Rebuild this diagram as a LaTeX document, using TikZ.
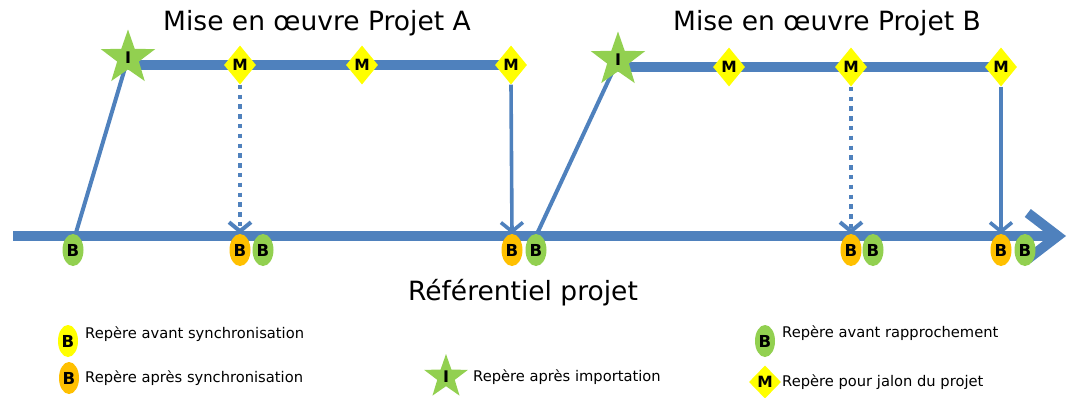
\documentclass[tikz,border=0pt]{standalone}
\usepackage{fontspec}
\setmainfont{DejaVu Sans}
\usetikzlibrary{shapes.geometric,arrows.meta,backgrounds}
\definecolor{pblue}{HTML}{4F81BD}
\definecolor{pgreen}{HTML}{92D050}
\definecolor{porange}{HTML}{FFC000}
\definecolor{pyellow}{HTML}{FFFF00}
\tikzset{
  bmark/.style={ellipse, minimum width=21pt, minimum height=32pt, inner sep=0pt, font=\fontsize{16.5}{16.5}\selectfont\bfseries},
  bgreen/.style={bmark, fill=pgreen},
  borange/.style={bmark, fill=porange},
  byellow/.style={bmark, fill=pyellow},
  mmark/.style={diamond, fill=pyellow, minimum width=32pt, minimum height=39pt, inner sep=0pt, font=\fontsize{15.5}{15.5}\selectfont\bfseries},
  imark/.style={star, star points=5, star point ratio=2.5, fill=pgreen, minimum size=57pt, inner sep=0pt, font=\fontsize{16}{16}\selectfont\bfseries},
  axisline/.style={pblue, line width=10pt, -{Straight Barb[length=30pt,width=46pt]}},
  track/.style={pblue, line width=9.5pt},
  link/.style={pblue, line width=4pt},
  sync/.style={pblue, line width=3.6pt, -{Straight Barb[length=9pt,width=22pt]}},
  syncdot/.style={sync, line width=4pt, dash pattern=on 4.5pt off 5.3pt},
  titletext/.style={font=\fontsize{26.5}{26.5}\selectfont, anchor=base},
  legendtext/.style={font=\fontsize{14.7}{14.7}\selectfont, anchor=base west, inner sep=0pt}
}
\begin{document}
\begin{tikzpicture}[x=1pt,y=-1pt]
\useasboundingbox (0,0) rectangle (1077,397);
% titles
\node[titletext] (tA) at (317,30) {Mise en œuvre Projet A};
\node[titletext] (tB) at (827,30) {Mise en œuvre Projet B};
\node[titletext] (tR) at (523,300) {Référentiel projet};
% project A markers
\node[imark] (IA) at (128,58) {I};
\node[mmark] (MA1) at (240,65) {M};
\node[mmark] (MA2) at (362,65) {M};
\node[mmark] (MA3) at (511,65) {M};
% project B markers
\node[imark] (IB) at (618,60) {I};
\node[mmark] (MB1) at (729,67) {M};
\node[mmark] (MB2) at (851,67) {M};
\node[mmark] (MB3) at (1001,67) {M};
% axis markers
\node[bgreen] (BA0) at (73,250) {B};
\node[borange] (BA1o) at (240,250) {B};
\node[bgreen] (BA1g) at (263,250) {B};
\node[borange] (BA2o) at (512,250) {B};
\node[bgreen] (BA2g) at (536,250) {B};
\node[borange] (BB1o) at (851,250) {B};
\node[bgreen] (BB1g) at (873,250) {B};
\node[borange] (BB2o) at (1001,250) {B};
\node[bgreen] (BB2g) at (1025,250) {B};
% coordinates
\coordinate (axL) at (13,236);
\coordinate (axR) at (1066,236);
\coordinate (lA) at (75,236);
\coordinate (lB) at (536,236);
\begin{pgfonlayer}{background}
\draw[axisline] (axL) -- (axR);
\draw[link] (lA) -- (IA.center);
\draw[link] (lB) -- (IB.center);
\draw[track] (IA.center |- MA3.center) -- (MA3.center);
\draw[track] (IB.center |- MB3.center) -- (MB3.center);
\draw[syncdot] (MA1.south) -- (BA1o.north);
\draw[sync] (MA3.south) -- (BA2o.north);
\draw[syncdot] (MB2.south) -- (BB1o.north);
\draw[sync] (MB3.south) -- (BB2o.north);
\end{pgfonlayer}
% legend
\node[byellow, minimum width=20pt] (LY) at (68,341) {B};
\node[legendtext] (LYt) at (85,338) {Repère avant synchronisation};
\node[borange, minimum width=20pt] (LO) at (69,378) {B};
\node[legendtext] (LOt) at (85,382) {Repère après synchronisation};
\node[imark, minimum size=46pt] (LI) at (446,377) {I};
\node[legendtext] (LIt) at (473,381) {Repère après importation};
\node[bgreen, minimum width=20pt] (LG) at (765,341) {B};
\node[legendtext] (LGt) at (782,337) {Repère avant rapprochement};
\node[mmark, minimum width=32pt, minimum height=33pt] (LM) at (765,382) {M};
\node[legendtext] (LMt) at (782,386) {Repère pour jalon du projet};
\end{tikzpicture}
\end{document}
